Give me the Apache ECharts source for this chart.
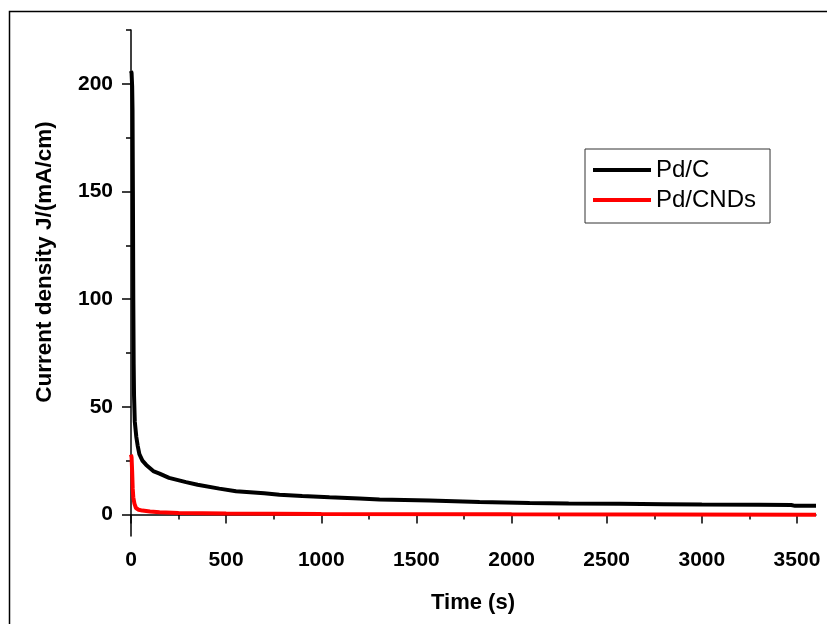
<!DOCTYPE html>
<html>
<head>
<meta charset="utf-8">
<script src="https://cdn.jsdelivr.net/npm/echarts@6/dist/echarts.min.js"></script>
<style>
html,body{margin:0;padding:0;background:#fff;}
#chart{width:827px;height:624px;}
</style>
</head>
<body>
<div id="chart"></div>
<script>
// Data
const seriesNames = ['Pd/C', 'Pd/CNDs'];
const timeBlack = [0, 3, 6, 8, 10, 12, 14, 16, 20, 28, 35, 44, 60, 80, 120, 150, 200, 289, 350, 464, 552, 700, 780, 900, 1043, 1200, 1306, 1569, 1832, 2095, 2300, 2567, 2800, 3000, 3300, 3470, 3490, 3600];
const jBlack    = [206, 205, 199, 188, 150, 100, 70, 55, 43, 36, 32, 28, 25, 23, 20, 19, 17, 15, 13.8, 12, 10.8, 9.8, 9.2, 8.6, 8.0, 7.4, 7.0, 6.5, 5.8, 5.3, 5.1, 5.0, 4.8, 4.6, 4.5, 4.4, 4.0, 4.0];
const timeRed = [0, 3, 6, 9, 12, 18, 26, 40, 60, 100, 150, 250, 500, 1000, 2000, 3600];
const jRed    = [27.8, 26.5, 20, 12, 8, 5, 3, 2.2, 1.8, 1.4, 1.0, 0.7, 0.4, 0.2, 0.05, -0.1];
const xTicks = [0, 500, 1000, 1500, 2000, 2500, 3000, 3500];
const xMinorTicks = [250, 750, 1250, 1750, 2250, 2750, 3250];
const yTicks = [0, 50, 100, 150, 200];
const yMinorTicks = [25, 75, 125, 175, 225];
const xTitle = 'Time (s)';
const yTitle = 'Current density J/(mA/cm)';

const pair = (xs, ys) => xs.map((x, i) => [x, ys[i]]);
const FONT = '"Liberation Sans", Arial, sans-serif';
const plain = v => String(v);

const chart = echarts.init(document.getElementById('chart'), null, {renderer: 'canvas'});
const axisLineStyle = {color: '#000', width: 1.5};
chart.setOption({
  animation: false,
  backgroundColor: '#fff',
  grid: {left: 131, right: 11, top: 30, bottom: 88, containLabel: false},
  xAxis: [{
    type: 'value', min: 0, max: 3600, position: 'bottom',
    axisLine: {show: true, lineStyle: axisLineStyle},
    axisTick: {show: true, inside: false, length: 9, lineStyle: axisLineStyle, customValues: xTicks},
    axisLabel: {show: true, margin: 14, color: '#000', fontSize: 21, fontWeight: 'bold', fontFamily: FONT, customValues: xTicks, formatter: plain},
    splitLine: {show: false}
  }, {
    type: 'value', min: 0, max: 3600, position: 'bottom',
    axisLine: {show: false},
    axisTick: {show: true, inside: false, length: 5, lineStyle: axisLineStyle, customValues: xMinorTicks},
    axisLabel: {show: false},
    splitLine: {show: false}
  }],
  yAxis: [{
    type: 'value', min: -10, max: 225, position: 'left',
    axisLine: {show: true, lineStyle: axisLineStyle},
    axisTick: {show: true, inside: false, length: 9, lineStyle: axisLineStyle, customValues: yTicks},
    axisLabel: {show: true, margin: 18, color: '#000', fontSize: 21, fontWeight: 'bold', fontFamily: FONT, customValues: yTicks, formatter: plain},
    splitLine: {show: false}
  }, {
    type: 'value', min: -10, max: 225, position: 'left',
    axisLine: {show: false},
    axisTick: {show: true, inside: false, length: 5, lineStyle: axisLineStyle, customValues: yMinorTicks},
    axisLabel: {show: false},
    splitLine: {show: false}
  }],
  legend: {
    show: true, orient: 'vertical', left: 585, top: 149,
    data: seriesNames,
    icon: 'rect', itemWidth: 58, itemHeight: 4, itemGap: 4,
    padding: [8, 14, 10, 8],
    borderColor: '#333', borderWidth: 1, borderRadius: 0,
    textStyle: {fontSize: 24, color: '#000', fontFamily: FONT, lineHeight: 26}
  },
  series: [{
    name: seriesNames[0], type: 'line', xAxisIndex: 0, yAxisIndex: 0,
    data: pair(timeBlack, jBlack), showSymbol: false, symbol: 'none', clip: false,
    lineStyle: {color: '#000', width: 4}, itemStyle: {color: '#000'}, z: 3
  }, {
    name: seriesNames[1], type: 'line', xAxisIndex: 0, yAxisIndex: 0,
    data: pair(timeRed, jRed), showSymbol: false, symbol: 'none', clip: false,
    lineStyle: {color: '#ff0000', width: 4}, itemStyle: {color: '#ff0000'}, z: 4
  }],
  graphic: [{
    type: 'rect', silent: true,
    shape: {x: 9.5, y: 11.5, width: 900, height: 700},
    style: {fill: 'none', stroke: '#000', lineWidth: 1.5}
  }, {
    type: 'text', x: 45, y: 262, rotation: Math.PI / 2,
    style: {text: yTitle, fill: '#000', font: 'bold 22.5px ' + FONT, textAlign: 'center', textVerticalAlign: 'middle'}
  }, {
    type: 'text', x: 473, y: 603,
    style: {text: xTitle, fill: '#000', font: 'bold 22px ' + FONT, textAlign: 'center', textVerticalAlign: 'middle'}
  }]
});
</script>
</body>
</html>
